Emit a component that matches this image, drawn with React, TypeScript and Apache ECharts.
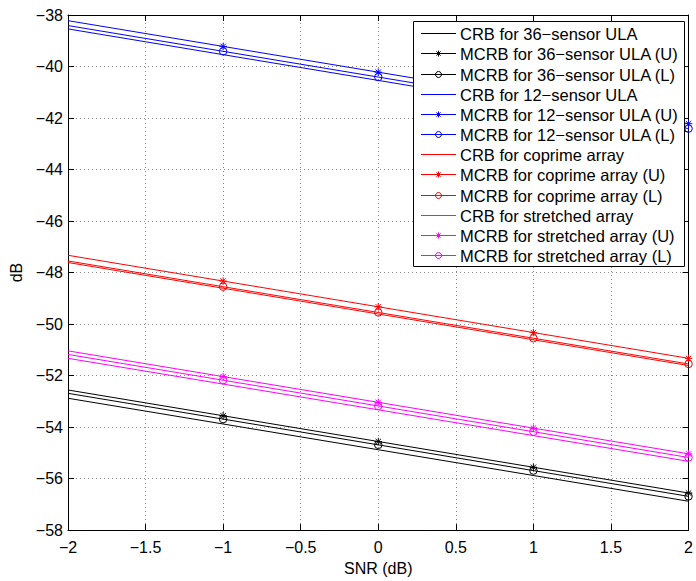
import React, { useEffect, useRef } from "react";
import * as echarts from "echarts";

const snr = [-2, -1, 0, 1, 2];

const crb36 = [-52.88, -53.88, -54.88, -55.88, -56.88];
const mcrb36U = [-52.56, -53.56, -54.56, -55.56, -56.56];
const mcrb36L = [-52.69, -53.69, -54.69, -55.69, -56.69];
const crb12 = [-38.54, -39.54, -40.54, -41.54, -42.54];
const mcrb12U = [-38.22, -39.22, -40.22, -41.22, -42.22];
const mcrb12L = [-38.41, -39.41, -40.41, -41.41, -42.41];
const crbCoprime = [-47.61, -48.61, -49.61, -50.61, -51.61];
const mcrbCoprimeU = [-47.33, -48.33, -49.33, -50.33, -51.33];
const mcrbCoprimeL = [-47.55, -48.55, -49.55, -50.55, -51.55];
const crbStretched = [-51.33, -52.33, -53.33, -54.33, -55.33];
const mcrbStretchedU = [-51.04, -52.04, -53.04, -54.04, -55.04];
const mcrbStretchedL = [-51.18, -52.18, -53.18, -54.18, -55.18];

const seriesNames = [
  "CRB for 36−sensor ULA",
  "MCRB for 36−sensor ULA (U)",
  "MCRB for 36−sensor ULA (L)",
  "CRB for 12−sensor ULA",
  "MCRB for 12−sensor ULA (U)",
  "MCRB for 12−sensor ULA (L)",
  "CRB for coprime array",
  "MCRB for coprime array (U)",
  "MCRB for coprime array (L)",
  "CRB for stretched array",
  "MCRB for stretched array (U)",
  "MCRB for stretched array (L)",
];
const seriesValues = [
  crb36, mcrb36U, mcrb36L,
  crb12, mcrb12U, mcrb12L,
  crbCoprime, mcrbCoprimeU, mcrbCoprimeL,
  crbStretched, mcrbStretchedU, mcrbStretchedL,
];
const seriesColors = [
  "#000000", "#000000", "#000000",
  "#0000ff", "#0000ff", "#0000ff",
  "#ff0000", "#ff0000", "#ff0000",
  "#ff00ff", "#ff00ff", "#ff00ff",
];
const seriesMarkers = [
  "none", "star", "circle",
  "none", "star", "circle",
  "none", "star", "circle",
  "none", "star", "circle",
];

const FONT = "'Liberation Sans', Arial, Helvetica, sans-serif";
const STAR_PATH =
  "path://M0,-1L0,1M-1,0L1,0M-0.72,-0.72L0.72,0.72M-0.72,0.72L0.72,-0.72";
const CIRCLE_PATH = "path://M1,0A1,1,0,1,1,-1,0A1,1,0,1,1,1,0Z";

const fmt = (v: number) => String(v).replace("-", "−");

export default function App() {
  const ref = useRef<HTMLDivElement>(null);
  useEffect(() => {
    if (!ref.current) return;
    const chart = echarts.init(ref.current, undefined, { renderer: "svg" });

    const series = seriesNames.map((name, i) => {
      const marker = seriesMarkers[i];
      const c = seriesColors[i];
      return {
        name,
        type: "line",
        xAxisIndex: 0,
        yAxisIndex: 0,
        data: snr.map((x, j) =>
          j === 0 || marker === "none"
            ? { value: [x, seriesValues[i][j]], symbol: "none" }
            : { value: [x, seriesValues[i][j]] }
        ),
        symbol: marker === "star" ? STAR_PATH : marker === "circle" ? CIRCLE_PATH : "none",
        symbolSize: 7.5,
        showSymbol: marker !== "none",
        lineStyle: { color: c, width: 1 },
        itemStyle: { color: "transparent", borderColor: c, borderWidth: 1 },
        emphasis: { disabled: true },
        silent: true,
      };
    });

    // legend built as graphic
    const lgLeft = 413.5;
    const lgTop = 21.5;
    const lgW = 271;
    const lgH = 245;
    const rowStart = 33.3;
    const rowStep = 20.15;
    const legendEls: any[] = [
      {
        type: "rect",
        z: 100,
        shape: { x: lgLeft, y: lgTop, width: lgW, height: lgH },
        style: { fill: "#ffffff", stroke: "#000000", lineWidth: 1 },
      },
    ];
    seriesNames.forEach((name, i) => {
      const cy = Math.round(rowStart + i * rowStep) + 0.5;
      const c = seriesColors[i];
      legendEls.push({
        type: "line",
        z: 101,
        shape: { x1: 421, y1: cy, x2: 456, y2: cy },
        style: { stroke: c, lineWidth: 1 },
      });
      const mx = 438.5;
      if (seriesMarkers[i] === "circle") {
        legendEls.push({
          type: "circle",
          z: 102,
          shape: { cx: mx, cy, r: 3 },
          style: { fill: "none", stroke: c, lineWidth: 1 },
        });
      } else if (seriesMarkers[i] === "star") {
        const r = 3;
        const d = 2.1;
        [
          [0, -r, 0, r],
          [-r, 0, r, 0],
          [-d, -d, d, d],
          [-d, d, d, -d],
        ].forEach(([a, b, e, f]) =>
          legendEls.push({
            type: "line",
            z: 102,
            shape: { x1: mx + a, y1: cy + b, x2: mx + e, y2: cy + f },
            style: { stroke: c, lineWidth: 1 },
          })
        );
      }
      legendEls.push({
        type: "text",
        z: 102,
        x: 460,
        y: cy,
        style: {
          text: name,
          fill: "#000000",
          fontSize: 16.5,
          fontFamily: FONT,
          align: "left",
          verticalAlign: "middle",
        },
      });
    });

    const axisCommon = {
      type: "value",
      axisLine: { show: true, onZero: false, lineStyle: { color: "#000", width: 1 } },
      axisTick: { show: true, inside: true, length: 6, lineStyle: { color: "#000" } },
    };

    chart.setOption({
      animation: false,
      backgroundColor: "#ffffff",
      textStyle: { fontFamily: FONT },
      grid: { left: 68, top: 15, right: 5.5, bottom: 41, containLabel: false },
      xAxis: [
        {
          ...axisCommon,
          position: "bottom",
          min: -2,
          max: 2,
          interval: 0.5,
          name: "SNR (dB)",
          nameLocation: "middle",
          nameGap: 28,
          nameTextStyle: { fontSize: 16, color: "#000", fontFamily: FONT },
          axisLabel: {
            color: "#000",
            fontSize: 16,
            fontFamily: FONT,
            margin: 9,
            formatter: (v: number) => fmt(v),
          },
          splitLine: {
            show: true,
            lineStyle: { color: "#8a8a8a", type: [1, 3], width: 1 },
          },
        },
        {
          ...axisCommon,
          position: "top",
          min: -2,
          max: 2,
          interval: 0.5,
          axisLabel: { show: false },
          splitLine: { show: false },
        },
      ],
      yAxis: [
        {
          ...axisCommon,
          position: "left",
          min: -58,
          max: -38,
          interval: 2,
          name: "dB",
          nameLocation: "middle",
          nameGap: 42,
          nameTextStyle: { fontSize: 16, color: "#000", fontFamily: FONT },
          axisLabel: {
            color: "#000",
            fontSize: 16,
            fontFamily: FONT,
            margin: 5,
            formatter: (v: number) => fmt(v),
          },
          splitLine: {
            show: true,
            lineStyle: { color: "#8a8a8a", type: [1, 3], width: 1 },
          },
        },
        {
          ...axisCommon,
          position: "right",
          min: -58,
          max: -38,
          interval: 2,
          axisLabel: { show: false },
          splitLine: { show: false },
        },
      ],
      series,
      graphic: { elements: legendEls },
    });
    return () => chart.dispose();
  }, []);
  return (
    <div
      ref={ref}
      style={{ position: "fixed", left: 0, top: 0, width: 696, height: 581, background: "#fff" }}
    />
  );
}
